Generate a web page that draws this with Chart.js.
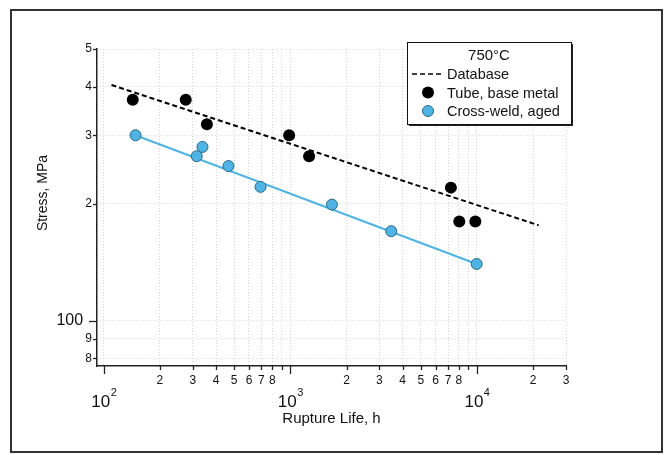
<!DOCTYPE html>
<html>
<head>
<meta charset="utf-8">
<script src="https://cdn.jsdelivr.net/npm/chart.js@4"></script>
<style>
html, body { margin: 0; padding: 0; background: #fff; }
</style>
</head>
<body>
<canvas id="myChart" width="670" height="455"></canvas>
<script>
// data (life in h, stress in MPa)
const tubeLife = [143, 275, 357, 985, 1260, 7250, 8040, 9800];
const tubeStress = [370, 370, 320, 300, 265, 220, 180, 180];
const weldLife = [148, 315, 338, 466, 692, 1670, 3470, 9960];
const weldStress = [300, 265, 280, 250, 221, 199, 170, 140];
const dbLife = [110, 21400];
const dbStress = [404, 176];
const fitLife = [148, 9960];
const fitStress = [300, 140];

const legendTitle = "750°C";
const xTitle = "Rupture Life, h";
const yTitle = "Stress, MPa";

const xTicks = [100, 200, 300, 400, 500, 600, 700, 800, 900,
    1000, 2000, 3000, 4000, 5000, 6000, 7000, 8000, 9000,
    10000, 20000, 30000];
const xMajor = [100, 1000, 10000];
const yTicks = [80, 90, 100, 200, 300, 400, 500];
const yMajor = [100];

const FONT = "'Liberation Sans', Arial, sans-serif";
const BLUE = "#4db4e6";

function pts(xs, ys) {
    return xs.map((x, i) => ({ x: x, y: ys[i] }));
}

function xLabel(v) {
    if (xMajor.includes(v)) return "";
    let d = Math.round(v / Math.pow(10, Math.floor(Math.log10(v) + 1e-9)));
    return d == 9 ? "" : String(d);
}

function yLabel(v) {
    if (v == 100) return "100  ";
    let d = Math.round(v / Math.pow(10, Math.floor(Math.log10(v) + 1e-9)));
    return String(d);
}

// extra drawing: frame, tick marks, decade labels, axis titles, legend
const extras = {
    id: "extras",
    beforeDraw(chart) {
        const ctx = chart.ctx;
        ctx.save();
        ctx.fillStyle = "#fff";
        ctx.fillRect(0, 0, chart.width, chart.height);
        ctx.restore();
    },
    afterDraw(chart) {
        const ctx = chart.ctx;
        const xs = chart.scales.x;
        const ys = chart.scales.y;
        const area = chart.chartArea;

        ctx.save();
        // outer frame
        ctx.strokeStyle = "#333";
        ctx.lineWidth = 2;
        ctx.strokeRect(11, 10, 651, 442);

        // tick marks
        ctx.strokeStyle = "#222";
        ctx.lineWidth = 1.3;
        xTicks.forEach(v => {
            let px = Math.round(xs.getPixelForValue(v)) + 0.5;
            let len = xMajor.includes(v) ? 8 : 4;
            ctx.beginPath();
            ctx.moveTo(px, area.bottom);
            ctx.lineTo(px, area.bottom + len);
            ctx.stroke();
        });
        yTicks.forEach(v => {
            let py = Math.round(ys.getPixelForValue(v)) + 0.5;
            let len = yMajor.includes(v) ? 8 : 4;
            ctx.beginPath();
            ctx.moveTo(area.left - len, py);
            ctx.lineTo(area.left, py);
            ctx.stroke();
        });

        // decade labels 10^n
        ctx.fillStyle = "#111";
        ctx.textBaseline = "alphabetic";
        xMajor.forEach(v => {
            let px = xs.getPixelForValue(v);
            let exp = String(Math.round(Math.log10(v)));
            ctx.font = "17px " + FONT;
            let w1 = ctx.measureText("10").width;
            ctx.font = "11px " + FONT;
            let w2 = ctx.measureText(exp).width;
            let x0 = px - (w1 + w2) / 2;
            ctx.font = "17px " + FONT;
            ctx.textAlign = "left";
            ctx.fillText("10", x0, 407);
            ctx.font = "11px " + FONT;
            ctx.fillText(exp, x0 + w1 + 0.5, 396);
        });

        // axis titles
        ctx.font = "15px " + FONT;
        ctx.textAlign = "center";
        ctx.textBaseline = "middle";
        ctx.fillText(xTitle, (area.left + area.right) / 2, 419);
        ctx.save();
        ctx.translate(43, 193);
        ctx.rotate(-Math.PI / 2);
        ctx.font = "14px " + FONT;
        ctx.fillText(yTitle, 0, 0);
        ctx.restore();

        // legend box
        const bx = 407, by = 42, bw = 164, bh = 82;
        ctx.fillStyle = "#222";
        ctx.fillRect(bx + 2, by + 2, bw, bh);
        ctx.fillStyle = "#fff";
        ctx.fillRect(bx, by, bw, bh);
        ctx.strokeStyle = "#111";
        ctx.lineWidth = 1;
        ctx.strokeRect(bx + 0.5, by + 0.5, bw, bh);

        ctx.fillStyle = "#111";
        ctx.font = "15px " + FONT;
        ctx.textAlign = "center";
        ctx.fillText(legendTitle, bx + 82, by + 14);

        const ds = chart.data.datasets;
        const rows = [ds[2], ds[0], ds[1]];
        ctx.font = "14.5px " + FONT;
        ctx.textAlign = "left";
        rows.forEach((d, i) => {
            let ry = by + 32 + i * 18.5;
            if (d.showLine) {
                ctx.strokeStyle = d.borderColor;
                ctx.lineWidth = 1.5;
                ctx.setLineDash(d.borderDash || []);
                ctx.beginPath();
                ctx.moveTo(bx + 5, ry);
                ctx.lineTo(bx + 34, ry);
                ctx.stroke();
                ctx.setLineDash([]);
            } else {
                ctx.beginPath();
                ctx.arc(bx + 21, ry, d.pointRadius, 0, Math.PI * 2);
                ctx.fillStyle = d.backgroundColor;
                ctx.fill();
                if (d.borderWidth) {
                    ctx.strokeStyle = d.borderColor;
                    ctx.lineWidth = d.borderWidth;
                    ctx.stroke();
                }
            }
            ctx.fillStyle = "#111";
            ctx.fillText(d.label, bx + 40, ry + 1);
        });
        ctx.restore();
    }
};

let chart = new Chart("myChart", {
    type: "scatter",
    data: {
        datasets: [{
            label: "Tube, base metal",
            data: pts(tubeLife, tubeStress),
            backgroundColor: "#000",
            borderColor: "#000",
            borderWidth: 0,
            pointRadius: 6,
            order: 1
        }, {
            label: "Cross-weld, aged",
            data: pts(weldLife, weldStress),
            backgroundColor: BLUE,
            borderColor: "#2b6a8a",
            borderWidth: 1,
            pointRadius: 5.5,
            order: 1
        }, {
            label: "Database",
            data: pts(dbLife, dbStress),
            showLine: true,
            borderColor: "#000",
            borderWidth: 2,
            borderDash: [5, 3],
            pointRadius: 0,
            order: 2
        }, {
            label: "fit",
            data: pts(fitLife, fitStress),
            showLine: true,
            borderColor: BLUE,
            borderWidth: 2,
            pointRadius: 0,
            order: 2
        }]
    },
    options: {
        responsive: false,
        animation: false,
        devicePixelRatio: 1,
        layout: { padding: { left: 0, right: 104, top: 49, bottom: 0 } },
        plugins: {
            legend: { display: false },
            tooltip: { enabled: false }
        },
        scales: {
            x: {
                type: "logarithmic",
                min: 92,
                max: 30000,
                afterFit: (s) => { s.height = 89; },
                afterBuildTicks: (s) => { s.ticks = xTicks.map(v => ({ value: v })); },
                grid: { color: "#d6d6d6", lineWidth: 1, drawTicks: false },
                border: { display: true, color: "#222", width: 1.5, dash: [1, 2] },
                ticks: {
                    autoSkip: false,
                    maxRotation: 0,
                    padding: 7,
                    color: "#111",
                    font: { family: FONT, size: 12 },
                    callback: (v) => xLabel(v)
                }
            },
            y: {
                type: "logarithmic",
                min: 76.5,
                max: 500,
                afterFit: (s) => { s.width = 97; },
                afterBuildTicks: (s) => { s.ticks = yTicks.map(v => ({ value: v })); },
                grid: { color: "#d6d6d6", lineWidth: 1, drawTicks: false },
                border: { display: true, color: "#222", width: 1.5, dash: [1, 2] },
                ticks: {
                    autoSkip: false,
                    padding: 5,
                    color: "#111",
                    font: (c) => ({ family: FONT, size: (c.tick && c.tick.value == 100) ? 16 : 12 }),
                    callback: (v) => yLabel(v)
                }
            }
        }
    },
    plugins: [extras]
});
</script>
</body>
</html>
